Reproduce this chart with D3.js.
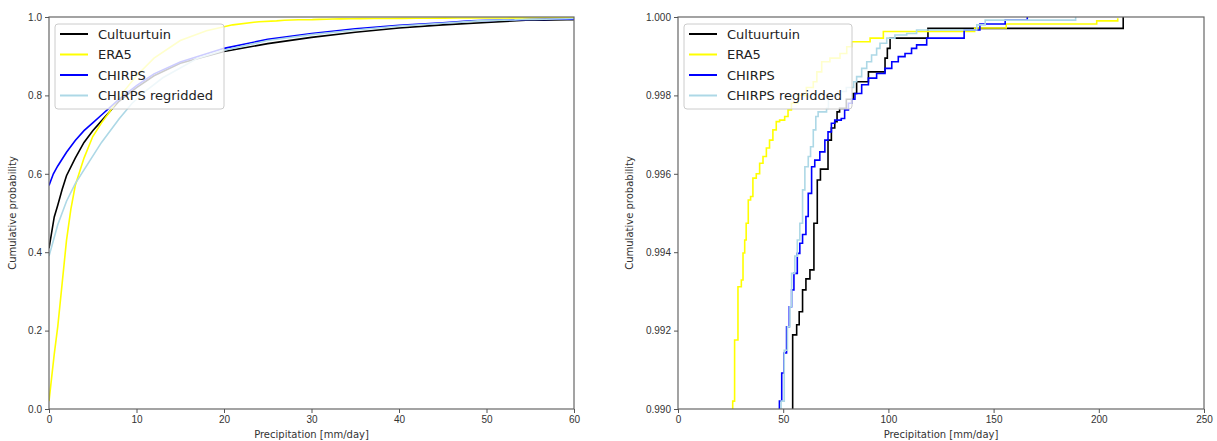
<!DOCTYPE html>
<html>
<head>
<meta charset="utf-8">
<script src="https://cdn.jsdelivr.net/npm/d3@7"></script>
<style>
  body { margin: 0; background: #fff; }
  svg { display: block; font-family: "DejaVu Sans", sans-serif; }
  .tick text { fill: #333; font-size: 10px; }
  .tick line { stroke: #555; }
  .domain { display: none; }
</style>
</head>
<body>
<svg id="chart" width="1217" height="441"></svg>
<script>
// Each series: [precip mm/day, cumulative probability]; early points from the
// full-range panel, tail points from the zoomed panel.
const seriesNames = ['Cultuurtuin', 'ERA5', 'CHIRPS', 'CHIRPS regridded'];
const seriesColors = ['#000000', '#ffff00', '#0000ff', '#add8e6'];

const cultuurtuin = [
  [0, 0.41], [0.3, 0.45], [0.6, 0.49], [1, 0.52], [1.5, 0.56], [2, 0.595], [3, 0.64],
  [4, 0.68], [5, 0.71], [6, 0.735], [7, 0.76], [8, 0.785], [10, 0.82], [12, 0.85],
  [15, 0.882], [20, 0.912], [25, 0.932], [30, 0.948], [35, 0.961], [40, 0.972],
  [45, 0.98], [50, 0.986],
  [54.5, 0.99189], [56.4, 0.99215], [57.6, 0.99248], [59.2, 0.99304], [60.8, 0.99332],
  [62.7, 0.99355], [64.6, 0.99474], [66.2, 0.99584], [67.7, 0.99612], [71.3, 0.99686],
  [72.9, 0.99717], [74.5, 0.99733], [75.6, 0.99758], [76.8, 0.99767], [80, 0.9979],
  [83.3, 0.99805], [84.9, 0.99835], [90.5, 0.9986], [98.4, 0.99895], [99.5, 0.9992],
  [100.8, 0.99946], [118.8, 0.99971], [211.6, 1.0]
];
const era5 = [
  [0, 0.02], [0.3, 0.08], [0.6, 0.14], [1, 0.21], [1.5, 0.32], [2, 0.43], [2.5, 0.51],
  [3, 0.57], [4, 0.64], [5, 0.695], [6, 0.73], [7, 0.76], [8, 0.795], [10, 0.85],
  [12, 0.895], [15, 0.94], [18, 0.965], [21, 0.98], [24, 0.988],
  [26, 0.9902], [26.9, 0.99176], [28.5, 0.99312], [30.1, 0.99329], [30.9, 0.99398],
  [31.7, 0.99431], [32.4, 0.99474], [33.4, 0.99533], [34.5, 0.99542], [35.6, 0.99589],
  [37.2, 0.996], [38.8, 0.99627], [40.4, 0.99644], [42, 0.99666], [43.5, 0.99686],
  [45.1, 0.99712], [46.7, 0.99733], [48.3, 0.99737], [50.7, 0.99746], [52.3, 0.99763],
  [53.9, 0.9978], [57, 0.998], [61, 0.9982], [64.3, 0.99835], [66, 0.9986],
  [68.3, 0.99886], [72.2, 0.99895], [77, 0.99907], [80.2, 0.99924], [82.5, 0.99937],
  [91.3, 0.99946], [97.6, 0.99963], [141, 0.99972], [156, 0.99982], [199, 0.9999],
  [209, 0.99997]
];
const chirps = [
  [0, 0.57], [0.5, 0.60], [1, 0.62], [2, 0.655], [3, 0.685], [4, 0.71], [5, 0.73],
  [6, 0.75], [7, 0.77], [8, 0.79], [10, 0.825], [12, 0.855], [15, 0.885], [20, 0.92],
  [25, 0.943], [30, 0.958], [35, 0.97], [40, 0.979], [45, 0.985],
  [48.2, 0.9902], [49.3, 0.99092], [50.4, 0.99143], [51.6, 0.9921], [52.9, 0.99261],
  [54, 0.99304], [55.1, 0.99346], [56.7, 0.99397], [57.9, 0.99423], [59.2, 0.99445],
  [60.8, 0.99491], [61.9, 0.9955], [63.5, 0.99618], [65, 0.99635], [67.4, 0.99656],
  [69.8, 0.99686], [71.3, 0.99707], [72.9, 0.99729], [74.5, 0.99737], [77.6, 0.99741],
  [79.2, 0.99763], [81, 0.9978], [82.5, 0.9979], [84.1, 0.99805], [87.3, 0.99827],
  [90.5, 0.99844], [94.4, 0.99856], [98.4, 0.99869], [101.6, 0.99886], [104.7, 0.99899],
  [107.9, 0.99907], [111, 0.9992], [113.4, 0.99929], [118.2, 0.99946], [136, 0.99967],
  [143.5, 0.99982], [155.5, 0.99992], [166, 1.0]
];
const chirpsRegridded = [
  [0, 0.39], [0.5, 0.43], [1, 0.47], [2, 0.53], [3, 0.575], [4, 0.61], [5, 0.645],
  [6, 0.68], [7, 0.71], [8, 0.74], [9.5, 0.78], [11, 0.81], [13, 0.845], [15, 0.87],
  [17, 0.895], [20, 0.915], [25, 0.94], [30, 0.955], [35, 0.967], [40, 0.977],
  [45, 0.984],
  [49, 0.9902], [50.5, 0.9915], [52, 0.9921], [53.2, 0.99261], [54, 0.99346],
  [55.5, 0.9939], [56.7, 0.99431], [57.9, 0.99474], [59.2, 0.99559], [60.3, 0.99618],
  [61.9, 0.99644], [63, 0.99669], [64.3, 0.99712], [65.5, 0.99746], [66.6, 0.99758],
  [70.6, 0.99767], [71.5, 0.998], [76, 0.9981], [80, 0.9982], [83.5, 0.99835],
  [84.9, 0.99848], [87.3, 0.99869], [89.7, 0.99886], [92, 0.99903], [94.4, 0.9992],
  [96, 0.99933], [99.2, 0.99946], [103.1, 0.99954], [108.7, 0.99958], [113.4, 0.99967],
  [142, 0.9998], [146, 0.99992], [189, 1.0]
];
const seriesData = [cultuurtuin, era5, chirps, chirpsRegridded];

const leftXTicks = [0, 10, 20, 30, 40, 50, 60];
const leftYTicks = [0.0, 0.2, 0.4, 0.6, 0.8, 1.0];
const rightXTicks = [0, 50, 100, 150, 200, 250];
const rightYTicks = [0.990, 0.992, 0.994, 0.996, 0.998, 1.000];

const svg = d3.select('#chart');

function panel(id, box, xDomain, yDomain, xTicks, yTicks, yFmt, curve) {
  const x = d3.scaleLinear().domain(xDomain).range([box.left, box.right]);
  const y = d3.scaleLinear().domain(yDomain).range([box.bottom, box.top]);
  const g = svg.append('g');

  svg.append('clipPath').attr('id', id)
    .append('rect')
    .attr('x', box.left).attr('y', box.top)
    .attr('width', box.right - box.left).attr('height', box.bottom - box.top);

  const line = d3.line().x(d => x(d[0])).y(d => y(d[1])).curve(curve);
  g.append('g').attr('clip-path', `url(#${id})`)
    .selectAll('path').data(seriesData).join('path')
    .attr('d', line)
    .attr('fill', 'none')
    .attr('stroke', (d, i) => seriesColors[i])
    .attr('stroke-width', 1.6);

  // frame
  g.append('rect')
    .attr('x', box.left).attr('y', box.top)
    .attr('width', box.right - box.left).attr('height', box.bottom - box.top)
    .attr('fill', 'none').attr('stroke', '#666').attr('stroke-width', 1.2);

  g.append('g').attr('transform', `translate(0,${box.bottom})`)
    .call(d3.axisBottom(x).tickValues(xTicks).tickSize(4).tickPadding(3).tickFormat(d3.format('d')));
  g.append('g').attr('transform', `translate(${box.left},0)`)
    .call(d3.axisLeft(y).tickValues(yTicks).tickSize(4).tickPadding(3).tickFormat(d3.format(yFmt)));

  g.append('text')
    .attr('x', (box.left + box.right) / 2).attr('y', box.bottom + 29)
    .attr('text-anchor', 'middle').attr('font-size', 10).attr('fill', '#333')
    .text('Precipitation [mm/day]');
  g.append('text')
    .attr('transform', `translate(${box.ylabelX},${(box.top + box.bottom) / 2}) rotate(-90)`)
    .attr('text-anchor', 'middle').attr('font-size', 10).attr('fill', '#333')
    .text('Cumulative probability');

  // legend
  const lg = g.append('g').attr('transform', `translate(${box.left + 6},${box.top + 7})`);
  lg.append('rect')
    .attr('width', box.legendW).attr('height', 85).attr('rx', 3)
    .attr('fill', 'white').attr('fill-opacity', 0.8)
    .attr('stroke', '#ccc').attr('stroke-width', 1);
  const item = lg.selectAll('g.item').data(seriesNames).join('g')
    .attr('class', 'item')
    .attr('transform', (d, i) => `translate(0,${10 + i * 20.5})`);
  item.append('line')
    .attr('x1', 5).attr('x2', 33)
    .attr('stroke', (d, i) => seriesColors[i]).attr('stroke-width', 2);
  item.append('text')
    .attr('x', 43).attr('dy', '0.35em')
    .attr('font-size', 13).attr('fill', '#222')
    .text(d => d);
}

panel('clip-left', { left: 49, right: 574, top: 17, bottom: 409, ylabelX: 16, legendW: 169 },
  [0, 60], [0, 1], leftXTicks, leftYTicks, '.1f', d3.curveLinear);
panel('clip-right', { left: 678, right: 1204, top: 17, bottom: 409, ylabelX: 633, legendW: 168 },
  [0, 250], [0.99, 1.0], rightXTicks, rightYTicks, '.3f', d3.curveStepAfter);
</script>
</body>
</html>
